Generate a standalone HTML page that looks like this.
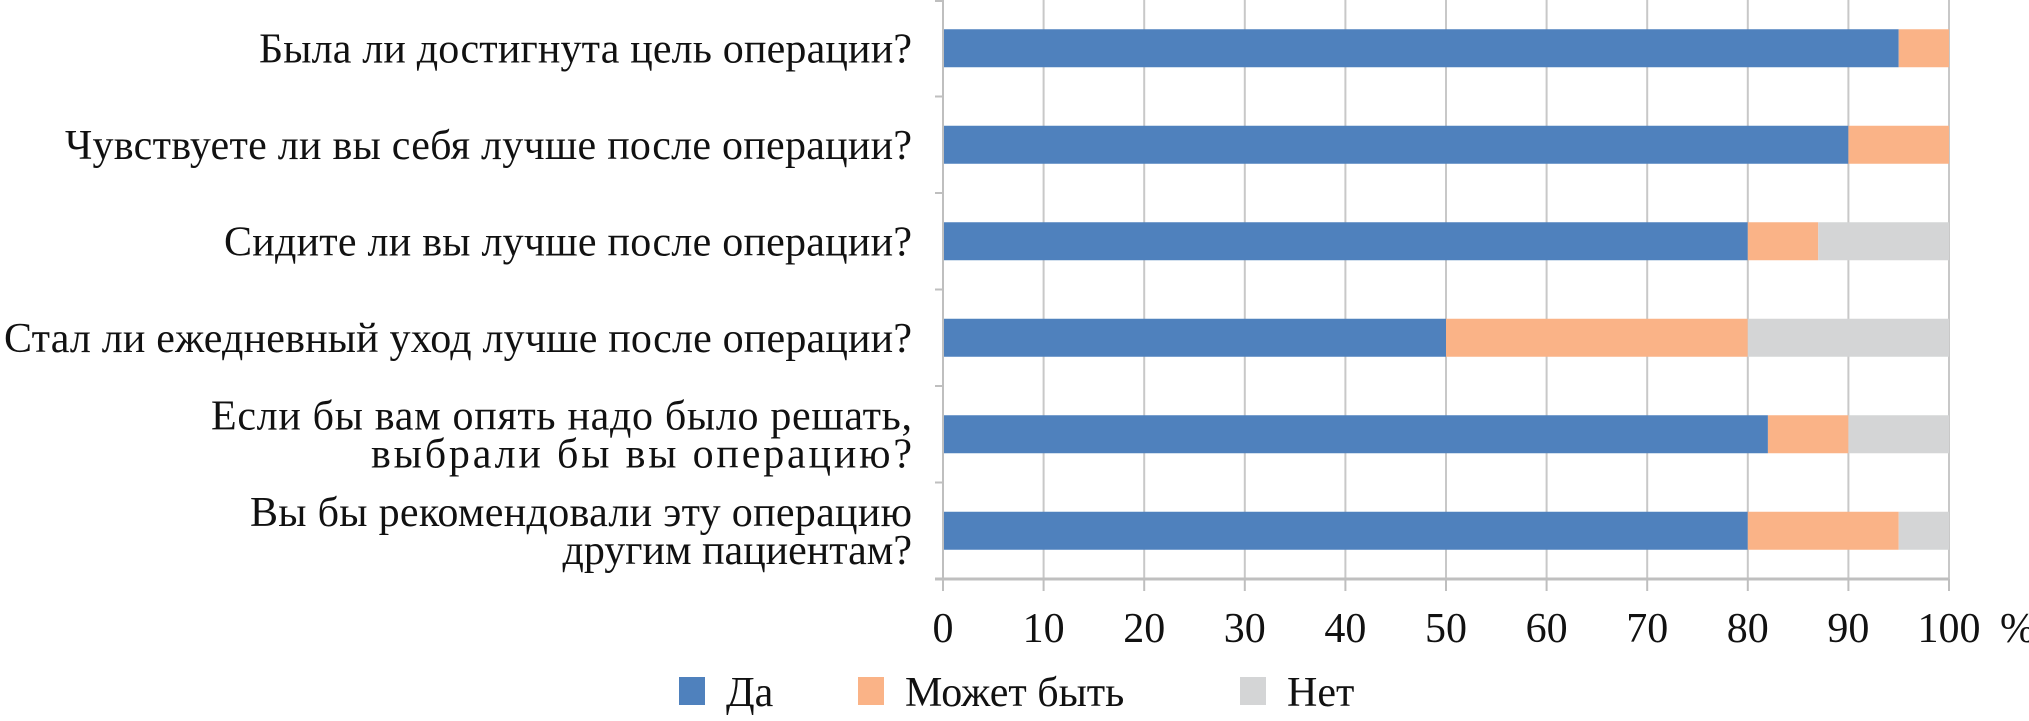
<!DOCTYPE html>
<html><head><meta charset="utf-8"><style>
html,body{margin:0;padding:0;background:#fff;}
svg{display:block;font-family:"Liberation Serif","DejaVu Serif",serif;}
</style></head><body>
<svg id="chart" width="2029" height="721" viewBox="0 0 2029 721" xmlns="http://www.w3.org/2000/svg">
<g id="grid"></g>
<g id="bars"></g>
<g id="axes"></g>
<g id="labels"></g>
<g id="ticks"></g>
<g id="legend"></g>
</svg>
<script>
const categories = [
  ["Была ли достигнута цель операции?"],
  ["Чувствуете ли вы себя лучше после операции?"],
  ["Сидите ли вы лучше после операции?"],
  ["Стал ли ежедневный уход лучше после операции?"],
  ["Если бы вам опять надо было решать,", "выбрали бы вы операцию?"],
  ["Вы бы рекомендовали эту операцию", "другим пациентам?"]
];
const yesValues = [95, 90, 80, 50, 82, 80];
const maybeValues = [5, 10, 7, 30, 8, 15];
const noValues = [0, 0, 13, 20, 10, 5];
const tickValues = [0, 10, 20, 30, 40, 50, 60, 70, 80, 90, 100];
const seriesNames = ["Да", "Может быть", "Нет"];
const seriesColors = ["#4F81BD", "#FAB387", "#D4D5D6"];
const labelStarts = [[259], [65], [224], [4], [211, 371], [250, null]];

const NS = "http://www.w3.org/2000/svg";
const X0 = 943, X1 = 1949, TOP = 0, BOT = 579;
const band = (BOT - TOP) / categories.length;
const barH = 38;
function xs(v){ return X0 + (X1 - X0) * v / 100; }
function yc(i){ return TOP + band * i + band / 2; }
function mk(tag, attrs, parent){
  const e = document.createElementNS(NS, tag);
  for (const k in attrs) e.setAttribute(k, attrs[k]);
  parent.appendChild(e);
  return e;
}
const grid = document.getElementById('grid');
const bars = document.getElementById('bars');
const axes = document.getElementById('axes');
const labels = document.getElementById('labels');
const ticks = document.getElementById('ticks');
const legend = document.getElementById('legend');

tickValues.forEach(t => {
  if (t > 0) {
    const g = mk('line', {x1: xs(t), x2: xs(t), y1: TOP, y2: BOT, stroke: '#C8C8C8', 'stroke-width': 2}, grid);
    
    
  }
  const tk = mk('line', {x1: xs(t), x2: xs(t), y1: BOT, y2: BOT + 12, stroke: '#BFBFBF', 'stroke-width': 2}, axes);
  
  
  const lbl = mk('text', {x: xs(t), y: 642, 'text-anchor': 'middle', 'font-size': 42, fill: '#111'}, ticks);
  lbl.textContent = t;
  
  
});
const pct = mk('text', {x: 2000, y: 642, 'font-size': 42, fill: '#111'}, ticks);
pct.textContent = '%';



const ax = mk('line', {x1: X0, x2: X0, y1: TOP, y2: BOT, stroke: '#BFBFBF', 'stroke-width': 2}, axes);


const bx = mk('line', {x1: X0 - 8, x2: X1, y1: BOT, y2: BOT, stroke: '#BFBFBF', 'stroke-width': 3}, axes);


for (let i = 0; i <= categories.length; i++) {
  const y = TOP + band * i + (i === 0 ? 1 : 0);
  const yt = mk('line', {x1: X0 - 8, x2: X0, y1: y, y2: y, stroke: '#BFBFBF', 'stroke-width': 2}, axes);
  
  
}

const series = [yesValues, maybeValues, noValues];
categories.forEach((cat, i) => {
  let acc = 0;
  series.forEach((vals, s) => {
    const v = vals[i];
    if (v > 0) {
      const r = mk('rect', {x: xs(acc), y: yc(i) - barH / 2, width: xs(acc + v) - xs(acc), height: barH, fill: seriesColors[s]}, bars);
      
      
    }
    acc += v;
  });
  const n = cat.length;
  cat.forEach((line, j) => {
    const y = yc(i) + 14 + (j - (n - 1) / 2) * 38;
    const st = labelStarts[i][j];
    let t;
    if (st === null) {
      t = mk('text', {x: 912, y: y, 'text-anchor': 'end', 'font-size': 42, fill: '#111'}, labels);
    } else {
      t = mk('text', {x: st, y: y, 'font-size': 42, fill: '#111', textLength: 912 - st, lengthAdjust: 'spacing'}, labels);
    }
    t.textContent = line;
    
    
  });
});

const legendX = [679, 858, 1240];
seriesNames.forEach((name, s) => {
  const r = mk('rect', {x: legendX[s], y: 677, width: 26, height: 28, fill: seriesColors[s]}, legend);
  
  
  const t = mk('text', {x: legendX[s] + 47, y: 706, 'font-size': 42, fill: '#111'}, legend);
  t.textContent = name;
  
  
});
</script>
</body></html>
